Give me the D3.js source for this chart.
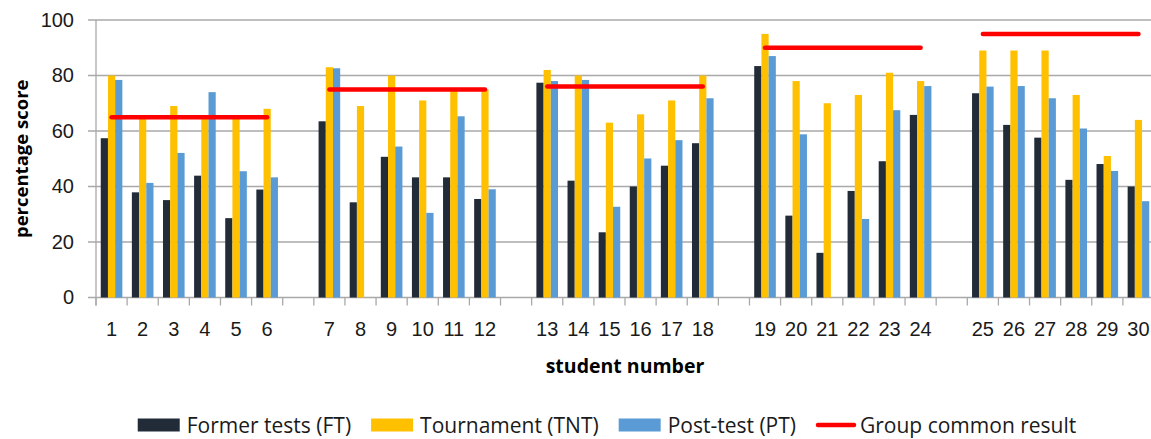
<!DOCTYPE html>
<html>
<head>
<meta charset="utf-8">
<script src="https://cdn.jsdelivr.net/npm/d3@7"></script>
<style>
  body { margin: 0; background: #fff; }
  svg { display: block; font-family: "Open Sans", sans-serif; }
  .tick text { fill: #1a1a1a; }
</style>
</head>
<body>
<svg id="chart" width="1151" height="439"></svg>
<script>
  // student numbers, in the order they appear on the axis
  const students = ['1','2','3','4','5','6','7','8','9','10','11','12','13','14','15',
                    '16','17','18','19','20','21','22','23','24','25','26','27','28','29','30'];

  // percentage scores
  const formerTests = [57.4, 37.9, 35.1, 43.9, 28.6, 38.9, 63.5, 34.3, 50.7, 43.3, 43.3, 35.5,
                       77.4, 42.1, 23.5, 40.0, 47.5, 55.6, 83.4, 29.5, 16.1, 38.4, 49.1, 65.8,
                       73.6, 62.2, 57.6, 42.4, 48.1, 40.0];
  const tournament = [80, 65, 69, 65, 65, 68, 83, 69, 80, 71, 75, 75,
                      82, 80, 63, 66, 71, 80, 95, 78, 70, 73, 81, 78,
                      89, 89, 89, 73, 51, 64];
  const postTest = [78.4, 41.3, 52.1, 74.0, 45.5, 43.3, 82.6, 0, 54.4, 30.5, 65.3, 39.0,
                    78.0, 78.4, 32.7, 50.1, 56.7, 71.8, 87.0, 58.8, 0, 28.3, 67.5, 76.2,
                    76.0, 76.2, 71.8, 60.9, 45.6, 34.7];

  // groups: first and last student, and the group common result
  const groupFirst = ['1', '7', '13', '19', '25'];
  const groupLast = ['6', '12', '18', '24', '30'];
  const groupResult = [65, 75, 76, 90, 95];

  const seriesNames = ['Former tests (FT)', 'Tournament (TNT)', 'Post-test (PT)'];
  const seriesValues = [formerTests, tournament, postTest];
  const colors = ['#222b38', '#ffc000', '#5b9bd5'];
  const lineName = 'Group common result';
  const lineColor = '#ff0000';
  const yTicks = [0, 20, 40, 60, 80, 100];

  // axis slots: students plus an empty slot between groups
  const slots = [];
  students.forEach(s => {
    slots.push(s);
    const g = groupLast.indexOf(s);
    if (g >= 0 && g < groupLast.length - 1) slots.push('gap' + g);
  });

  const svg = d3.select('#chart');
  const plotL = 96, plotR = 1154, plotT = 20, plotB = 297.5;

  const x0 = d3.scaleBand().domain(slots).range([plotL, plotR]);
  const x1 = d3.scaleBand().domain(seriesNames).range([0, x0.bandwidth()]).paddingOuter(0.66);
  const y = d3.scaleLinear().domain([0, 100]).range([plotB, plotT]);

  // gridlines
  svg.append('g').selectAll('line').data(yTicks).join('line')
    .attr('x1', plotL - 8).attr('x2', plotR)
    .attr('y1', d => y(d)).attr('y2', d => y(d))
    .attr('stroke', '#a9a9a9').attr('stroke-width', 1.3);

  // y axis
  const yAxis = svg.append('g').attr('transform', `translate(${plotL},0)`)
    .call(d3.axisLeft(y).tickValues(yTicks).tickSize(0).tickPadding(22));
  yAxis.select('.domain').remove();
  yAxis.selectAll('text').style('font-size', '20px');
  svg.append('line').attr('x1', plotL).attr('x2', plotL).attr('y1', plotT).attr('y2', plotB + 8)
    .attr('stroke', '#a9a9a9').attr('stroke-width', 1.3);

  // bars
  const rows = students.map((s, i) => ({ s, vals: seriesValues.map(v => v[i]) }));
  svg.append('g').selectAll('g').data(rows).join('g')
    .attr('transform', d => `translate(${x0(d.s)},0)`)
    .selectAll('rect').data(d => d.vals.map((v, k) => ({ k, v }))).join('rect')
    .attr('x', d => x1(seriesNames[d.k]))
    .attr('width', x1.bandwidth())
    .attr('y', d => y(d.v))
    .attr('height', d => y(0) - y(d.v))
    .attr('fill', d => colors[d.k]);

  // x axis labels and slot boundary ticks
  const xAxis = svg.append('g').attr('transform', `translate(0,${plotB})`)
    .call(d3.axisBottom(x0).tickSize(0).tickPadding(24)
      .tickFormat(d => d.startsWith('gap') ? '' : d));
  xAxis.select('.domain').remove();
  xAxis.selectAll('text').style('font-size', '20px');
  svg.append('g').selectAll('line').data(slots.concat(['end'])).join('line')
    .attr('x1', d => d === 'end' ? plotR : x0(d))
    .attr('x2', d => d === 'end' ? plotR : x0(d))
    .attr('y1', plotB).attr('y2', plotB + 8)
    .attr('stroke', '#a9a9a9').attr('stroke-width', 1.3);

  // group common result lines
  const mid = s => x0(s) + x0.bandwidth() / 2;
  svg.append('g').selectAll('line').data(groupResult).join('line')
    .attr('x1', (d, i) => mid(groupFirst[i]))
    .attr('x2', (d, i) => mid(groupLast[i]))
    .attr('y1', d => y(d)).attr('y2', d => y(d))
    .attr('stroke', lineColor).attr('stroke-width', 4.5).attr('stroke-linecap', 'round');

  // axis titles
  svg.append('text').attr('transform', `translate(20,${(plotT + plotB) / 2}) rotate(-90)`)
    .attr('text-anchor', 'middle').attr('dominant-baseline', 'central')
    .style('font-size', '18.5px').style('font-weight', 'bold').text('percentage score');
  svg.append('text').attr('x', (plotL + plotR) / 2).attr('y', 365)
    .attr('text-anchor', 'middle').attr('dominant-baseline', 'central')
    .style('font-size', '19.5px').style('font-weight', 'bold').text('student number');

  // legend, centred under the chart
  const legend = svg.append('g');
  const items = seriesNames.map((n, i) => ({ n, c: colors[i], line: false }))
    .concat([{ n: lineName, c: lineColor, line: true }]);
  let lx = 0;
  items.forEach(it => {
    const g = legend.append('g').attr('transform', `translate(${lx},0)`);
    if (it.line) {
      g.append('line').attr('x1', 2).attr('x2', 38).attr('y1', 0).attr('y2', 0)
        .attr('stroke', it.c).attr('stroke-width', 4.5).attr('stroke-linecap', 'round');
    } else {
      g.append('rect').attr('x', 0).attr('y', -6.5).attr('width', 42).attr('height', 13).attr('fill', it.c);
    }
    const t = g.append('text').attr('x', it.line ? 44 : 49).attr('y', 0)
      .attr('dominant-baseline', 'central').style('font-size', '21px').attr('fill', '#1a1a1a').text(it.n);
    lx += (it.line ? 44 : 49) + t.node().getComputedTextLength() + 20;
  });
  lx -= 20;
  legend.attr('transform', `translate(${607 - lx / 2},425)`);
</script>
</body>
</html>
